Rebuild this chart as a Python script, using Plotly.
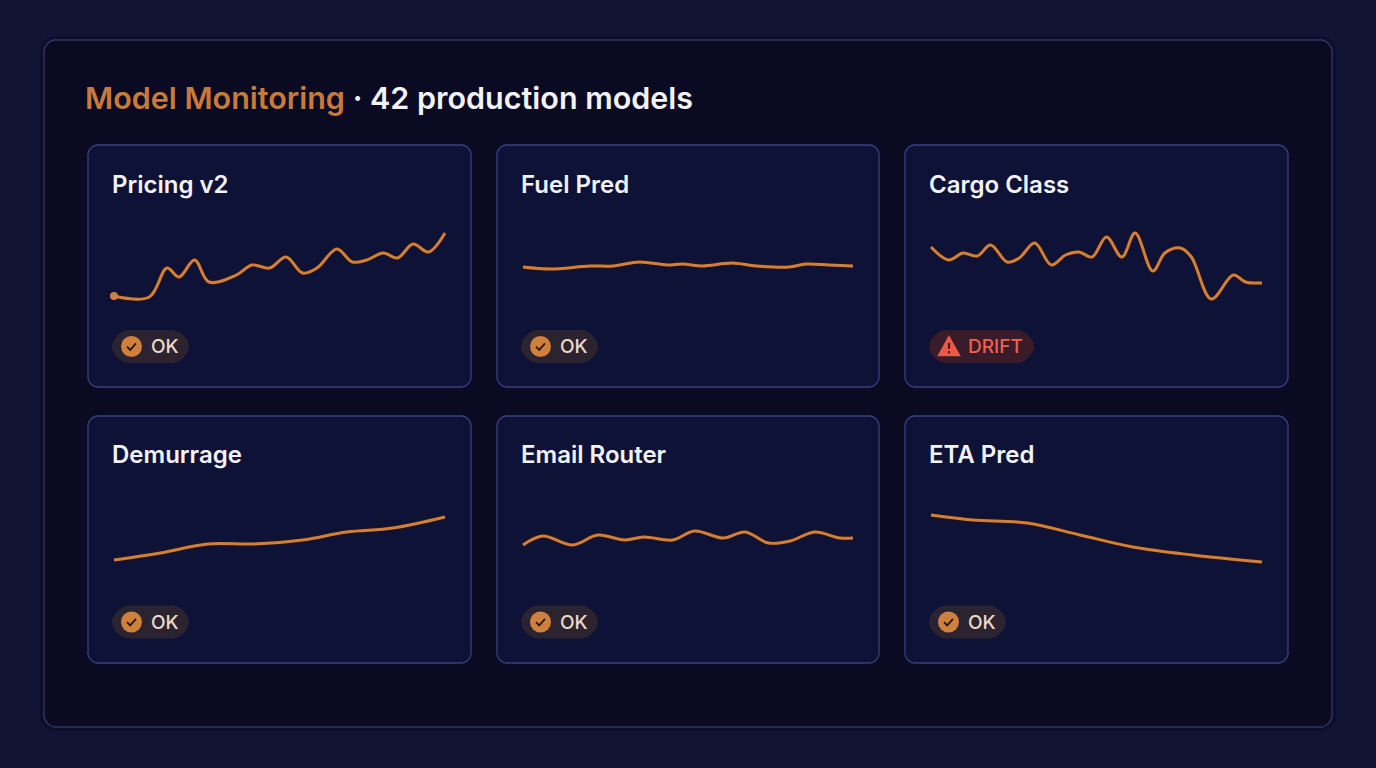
import plotly.graph_objects as go

W, H = 1376, 768

# ---- data ----
title_accent = "Model Monitoring"
title_rest = "42 production models"

models = ["Pricing v2", "Fuel Pred", "Cargo Class", "Demurrage", "Email Router", "ETA Pred"]
status = ["OK", "OK", "DRIFT", "OK", "OK", "OK"]

# day of the 30-day window / metric score (0-100)
pricing_day = [0, 3.2, 4.8, 5.9, 7.3, 8.6, 11.1, 12.5, 14.1, 15.6, 17.1, 18.4, 20.2, 21.6, 22.9, 24.4, 25.7, 27.1, 28.5, 30]
pricing_val = [14, 13, 42, 33, 50, 28, 35, 45, 42, 53, 37, 42, 61, 48, 50, 57, 52, 66, 58, 77]

fuel_day = [0, 2.5, 6.1, 8.2, 10.6, 13.1, 14.5, 16.3, 19.0, 21.2, 24.2, 25.7, 27.8, 30]
fuel_val = [43, 41, 44, 44, 48, 45, 46, 44, 47, 44, 43, 46, 45, 44]

cargo_day = [0, 1.6, 2.9, 4.2, 5.4, 6.9, 8.0, 9.4, 10.9, 12.2, 13.4, 14.6, 15.9, 17.3, 18.5, 20.1, 21.2, 22.6, 23.6, 25.4, 27.4, 28.5, 30]
cargo_val = [63, 50, 57, 54, 65, 48, 52, 67, 45, 55, 58, 53, 73, 53, 77, 39, 57, 62, 53, 11, 35, 28, 27]

demurrage_day = [0, 4.2, 8.5, 12.7, 17.1, 21.1, 25.3, 30]
demurrage_val = [30, 37, 46, 46, 50, 58, 62, 73]

email_day = [0, 1.8, 4.5, 6.8, 9.2, 11.0, 13.6, 15.6, 18.2, 20.2, 22.3, 24.3, 26.5, 28.8, 30]
email_val = [45, 54, 45, 55, 50, 53, 50, 59, 52, 58, 47, 49, 58, 52, 52]

eta_day = [0, 3.8, 8.7, 13.5, 18.3, 23.7, 30]
eta_val = [75, 70, 67, 55, 43, 35, 28]

series = [
    (pricing_day, pricing_val),
    (fuel_day, fuel_val),
    (cargo_day, cargo_val),
    (demurrage_day, demurrage_val),
    (email_day, email_val),
    (eta_day, eta_val),
]

# ---- style ----
PAGE_BG = "#121436"
PANEL_BG = "#0a0b23"
PANEL_LINE = "#33356c"
CARD_BG = "#0f1237"
CARD_LINE = "#3c3f80"
ORANGE = "#cf803d"
ACCENT = "#c97a3b"
WHITE = "#f3f3f7"
FONT = "Inter"

col_x = [(88, 471), (497, 879), (905, 1288)]
row_y = [(145, 387), (416, 663)]
spark_y = [(210, 310), (490, 590)]   # top, bottom in px
badge_y = [346.5, 622]
title_y = [184, 454]


def px(x):
    return x / W


def py(y):
    return 1 - y / H


def rrect(x0, y0, x1, y1, r):
    k = 0.45 * r
    pts = [
        ("M", [(x0 + r, y0)]),
        ("L", [(x1 - r, y0)]),
        ("C", [(x1 - r + k, y0), (x1, y0 + r - k), (x1, y0 + r)]),
        ("L", [(x1, y1 - r)]),
        ("C", [(x1, y1 - r + k), (x1 - r + k, y1), (x1 - r, y1)]),
        ("L", [(x0 + r, y1)]),
        ("C", [(x0 + r - k, y1), (x0, y1 - r + k), (x0, y1 - r)]),
        ("L", [(x0, y0 + r)]),
        ("C", [(x0, y0 + r - k), (x0 + r - k, y0), (x0 + r, y0)]),
    ]
    s = ""
    for cmd, p in pts:
        s += cmd + " " + " ".join(f"{px(a):.5f},{py(b):.5f}" for a, b in p) + " "
    return s + "Z"


def poly(points, close=False):
    s = "M " + " L ".join(f"{px(a):.5f},{py(b):.5f}" for a, b in points)
    return s + (" Z" if close else "")


shapes = []
annotations = []

# outer panel
shapes.append(dict(type="path", path=rrect(40, 36, 1336, 731, 14), xref="paper", yref="paper",
                   fillcolor="rgba(5,6,20,0.35)", line=dict(width=0), layer="below"))
shapes.append(dict(type="path", path=rrect(44, 40, 1332, 727, 11), xref="paper", yref="paper",
                   fillcolor=PANEL_BG, line=dict(color=PANEL_LINE, width=1.3), layer="below"))

annotations.append(dict(
    x=px(83), y=py(97), xref="paper", yref="paper", xanchor="left", yanchor="middle",
    text=f"<span style='color:{ACCENT}'>{title_accent}</span> · {title_rest}",
    showarrow=False, font=dict(family=FONT, size=30.5, color=WHITE, weight=600)))

fig = go.Figure()

for i, name in enumerate(models):
    r, c = divmod(i, 3)
    cx0, cx1 = col_x[c]
    cy0, cy1 = row_y[r]
    shapes.append(dict(type="path", path=rrect(cx0, cy0, cx1, cy1, 9), xref="paper", yref="paper",
                       fillcolor=CARD_BG, line=dict(color=CARD_LINE, width=1.3), layer="below"))
    annotations.append(dict(
        x=px(cx0 + 22), y=py(title_y[r]), xref="paper", yref="paper", xanchor="left", yanchor="middle",
        text=name, showarrow=False, font=dict(family=FONT, size=24, color=WHITE, weight=600)))

    # sparkline axes
    sfx = "" if i == 0 else str(i + 1)
    lx0, lx1 = cx0 + 26, cx1 - 26
    ppd = (lx1 - lx0) / 30
    top, bot = spark_y[r]
    fig.update_layout({
        f"xaxis{sfx}": dict(domain=[px(lx0 - ppd), px(lx1 + ppd)], range=[-1, 31], visible=False,
                            fixedrange=True, anchor=f"y{sfx}"),
        f"yaxis{sfx}": dict(domain=[py(bot + 30), py(top - 30)], range=[-30, 130], visible=False,
                            fixedrange=True, anchor=f"x{sfx}"),
    })
    d, v = series[i]
    fig.add_trace(go.Scatter(x=d, y=v, mode="lines", xaxis=f"x{sfx}", yaxis=f"y{sfx}",
                             line=dict(color="rgba(40,18,8,0.8)", width=4.8, shape="spline", smoothing=1.0),
                             hoverinfo="skip", showlegend=False))
    fig.add_trace(go.Scatter(x=d, y=v, mode="lines", xaxis=f"x{sfx}", yaxis=f"y{sfx}",
                             line=dict(color=ORANGE, width=3, shape="spline", smoothing=1.0),
                             hoverinfo="skip", showlegend=False))
    if i == 0:
        fig.add_trace(go.Scatter(x=[d[0]], y=[v[0]], mode="markers", xaxis="x", yaxis="y",
                                 marker=dict(color=ORANGE, size=8), hoverinfo="skip", showlegend=False))

    # status badge
    bx0 = cx0 + 24
    by = badge_y[r]
    drift = status[i] == "DRIFT"
    bw = 105 if drift else 77
    shapes.append(dict(type="path", path=rrect(bx0, by - 16.5, bx0 + bw, by + 16.5, 16.5),
                       xref="paper", yref="paper",
                       fillcolor="#3a1b29" if drift else "#2c2330", line=dict(width=0), layer="below"))
    ix = bx0 + 20 if drift else bx0 + 19.5
    if drift:
        shapes.append(dict(type="path", path=poly([(ix, by - 10), (ix + 10.5, by + 9), (ix - 10.5, by + 9)], True),
                           xref="paper", yref="paper", fillcolor="#ee5848",
                           line=dict(color="#ee5848", width=1.5, ), layer="above"))
        shapes.append(dict(type="line", x0=px(ix), x1=px(ix), y0=py(by - 3.5), y1=py(by + 2.5),
                           xref="paper", yref="paper", line=dict(color="#4a1a1e", width=2.2), layer="above"))
        shapes.append(dict(type="circle", x0=px(ix - 1.2), x1=px(ix + 1.2), y0=py(by + 4.6), y1=py(by + 7),
                           xref="paper", yref="paper", fillcolor="#4a1a1e", line=dict(width=0), layer="above"))
    else:
        shapes.append(dict(type="circle", x0=px(ix - 10.5), x1=px(ix + 10.5), y0=py(by - 10.5), y1=py(by + 10.5),
                           xref="paper", yref="paper", fillcolor=ORANGE, line=dict(width=0), layer="above"))
        shapes.append(dict(type="path", path=poly([(ix - 4.5, by + 0.2), (ix - 1.3, by + 3.4), (ix + 4.5, by - 3.2)]),
                           xref="paper", yref="paper", line=dict(color="#2a170c", width=1.8), layer="above"))
    annotations.append(dict(
        x=px(bx0 + 37), y=py(by), xref="paper", yref="paper", xanchor="left", yanchor="middle",
        text=status[i], showarrow=False,
        font=dict(family=FONT, size=19, color="#ec6151" if drift else "#ead9c8", weight=500)))

fig.update_layout(
    width=W, height=H,
    margin=dict(l=0, r=0, t=0, b=0),
    paper_bgcolor=PAGE_BG,
    plot_bgcolor="rgba(0,0,0,0)",
    shapes=shapes,
    annotations=annotations,
    showlegend=False,
)

fig.write_html("out.html", config={"displayModeBar": False, "staticPlot": True},
               post_script="document.body.style.margin='0';document.body.style.overflow='hidden';")
